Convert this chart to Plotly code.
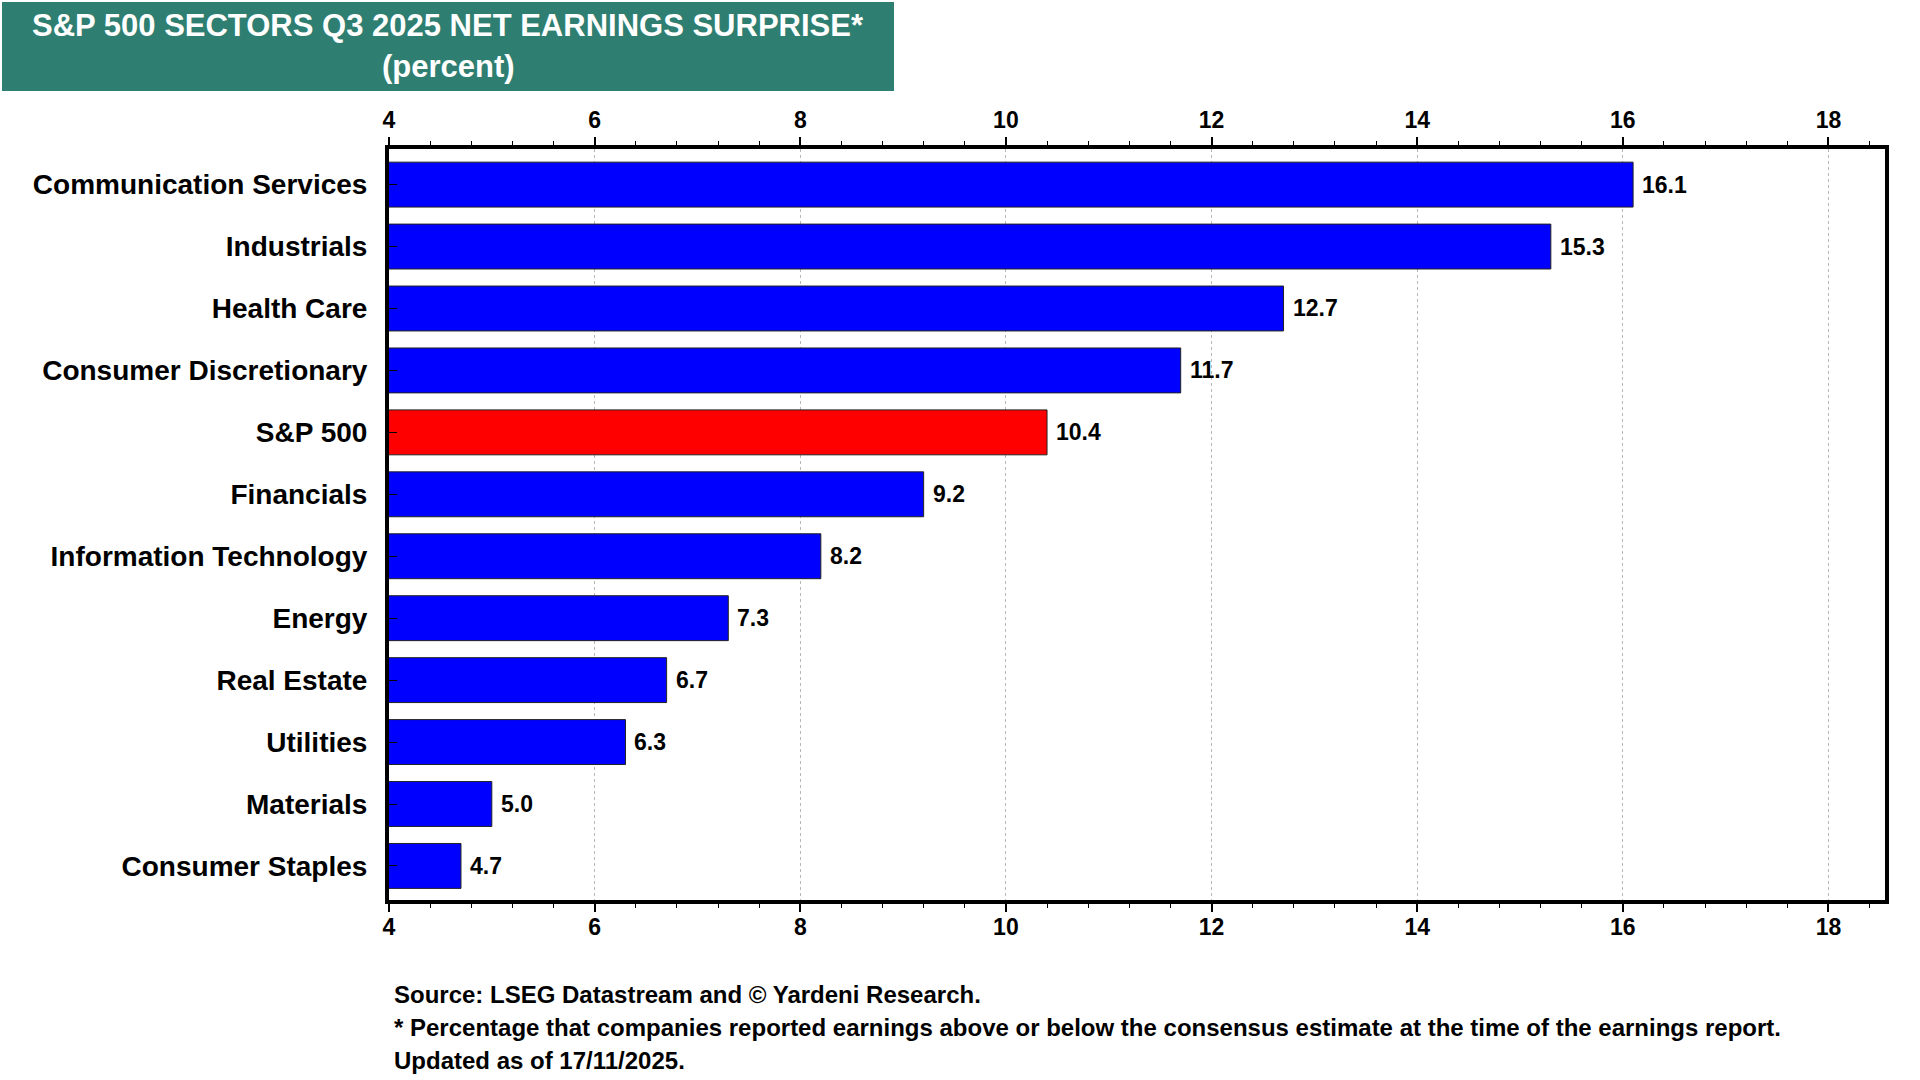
import plotly.graph_objects as go

sectors = ["Communication Services", "Industrials", "Health Care", "Consumer Discretionary",
           "S&P 500", "Financials", "Information Technology", "Energy", "Real Estate",
           "Utilities", "Materials", "Consumer Staples"]
surprise = [16.1, 15.3, 12.7, 11.7, 10.4, 9.2, 8.2, 7.3, 6.7, 6.3, 5.0, 4.7]
bar_colors = ["#0000FF" if s != "S&P 500" else "#FF0000" for s in sectors]
x_ticks = [4, 6, 8, 10, 12, 14, 16, 18]

title_line1 = "S&P 500 SECTORS Q3 2025 NET EARNINGS SURPRISE*"
title_line2 = "(percent)"
footer = ["Source: LSEG Datastream and © Yardeni Research.",
          "* Percentage that companies reported earnings above or below the consensus estimate at the time of the earnings report.",
          "Updated as of 17/11/2025."]

W, H = 1920, 1080
L, R, T, B = 389, 1885, 149, 900

def px_x(px):
    return (px - L) / (R - L)

def px_y(py):
    return (B - py) / (B - T)

FONT = "Liberation Sans, Arial, sans-serif"

fig = go.Figure()
fig.add_trace(go.Bar(
    x=surprise, y=sectors, orientation="h",
    marker=dict(color=bar_colors, line=dict(color="#222222", width=1)),
    width=0.725, hoverinfo="skip",
))
fig.add_trace(go.Scatter(
    x=surprise, y=sectors, xaxis="x2", mode="markers",
    marker=dict(opacity=0), hoverinfo="skip", showlegend=False,
))

for v, s in zip(surprise, sectors):
    fig.add_annotation(x=v, y=s, xref="x", yref="y", text=f"{v:.1f}",
                       showarrow=False, xanchor="left", yanchor="middle", xshift=7,
                       font=dict(family=FONT, size=23, color="black", weight="bold"))

axis_common = dict(
    range=[4, 18.55], tickvals=x_ticks, ticks="outside", ticklen=8, tickwidth=1.5,
    tickcolor="black",
    tickfont=dict(family=FONT, size=23, color="black", weight="bold"),
    minor=dict(dtick=0.4, tick0=4, ticks="outside", ticklen=4, tickwidth=1, tickcolor="black"),
    showline=True, linecolor="black", linewidth=4,
    zeroline=False,
)

fig.update_layout(
    width=W, height=H,
    margin=dict(l=L, r=W - R, t=T, b=H - B, pad=0),
    paper_bgcolor="white", plot_bgcolor="white",
    showlegend=False,
    xaxis=dict(**axis_common, side="top", showgrid=True, gridcolor="#b8b8b8",
               griddash="dot", gridwidth=1, ticklabelstandoff=0),
    xaxis2=dict(**axis_common, side="bottom", overlaying="x", matches="x",
                showgrid=False, ticklabelstandoff=-5),
    yaxis=dict(
        categoryorder="array", categoryarray=sectors, range=[11.55, -0.575],
        ticks="inside", ticklen=8, tickwidth=1, tickcolor="black",
        tickfont=dict(family=FONT, size=28, color="black", weight="bold"),
        showline=True, linecolor="black", linewidth=4, mirror=True,
        showgrid=False, ticklabelstandoff=12,
    ),
)

# title box
fig.add_shape(type="rect", xref="paper", yref="paper",
              x0=px_x(2), x1=px_x(894), y0=px_y(91), y1=px_y(2),
              fillcolor="#2E7E72", line=dict(width=0), layer="above")
fig.add_annotation(xref="paper", yref="paper", x=px_x(448), y=px_y(25),
                   text=title_line1, showarrow=False, xanchor="center", yanchor="middle",
                   font=dict(family=FONT, size=31, color="white", weight="bold"))
fig.add_annotation(xref="paper", yref="paper", x=px_x(448), y=px_y(67),
                   text=title_line2, showarrow=False, xanchor="center", yanchor="middle",
                   font=dict(family=FONT, size=31, color="white", weight="bold"))

for line, py in zip(footer, [994, 1027, 1060]):
    fig.add_annotation(xref="paper", yref="paper", x=px_x(392), y=px_y(py),
                       text=line, showarrow=False, xanchor="left", yanchor="middle",
                       font=dict(family=FONT, size=24, color="black", weight="bold"))

fig.write_html("out.html", config={"displayModeBar": False},
               post_script="document.body.style.margin='0';")
